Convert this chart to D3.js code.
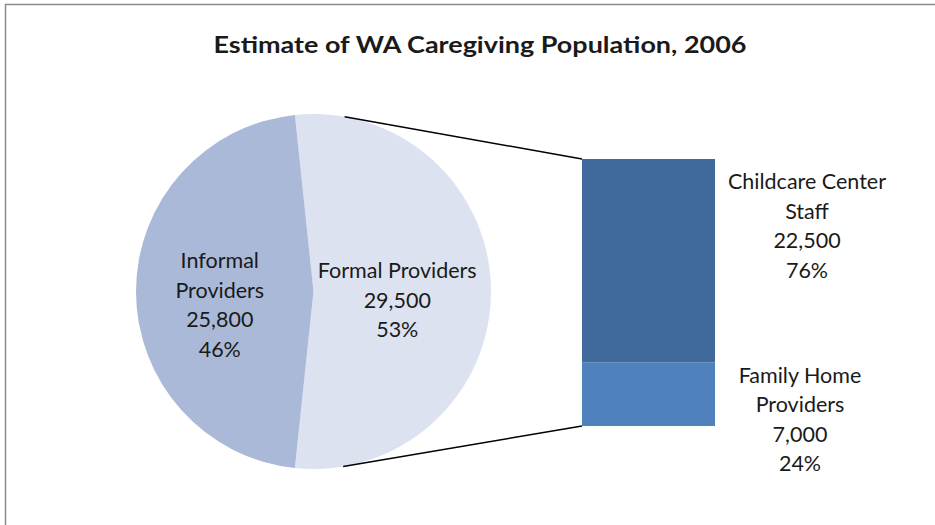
<!DOCTYPE html>
<html>
<head>
<meta charset="utf-8">
<script src="https://cdn.jsdelivr.net/npm/d3@7"></script>
<style>
  body { margin: 0; background: #fff; }
  text { font-family: Lato, "Open Sans", sans-serif; fill: #1a1a1a; }
</style>
</head>
<body>
<svg id="chart" width="935" height="525"></svg>
<script>
// dados
var mainNames = [["Formal Providers"], ["Informal", "Providers"]];
var mainValues = [29500, 25800];
var mainPct = ["53%", "46%"];
var mainColors = ["#dce2ef", "#aab9d7"];

var subNames = [["Childcare Center", "Staff"], ["Family Home", "Providers"]];
var subValues = [22500, 7000];
var subPct = ["76%", "24%"];
var subColors = ["#406a9b", "#4f81bd"];

var title = "Estimate of WA Caregiving Population, 2006";

var svg = d3.select("#chart"),
    width = +svg.attr("width"),
    height = +svg.attr("height");

var fmt = d3.format(",");
var fontSize = 21.5;

// moldura
svg.append("rect")
  .attr("x", 5.5).attr("y", 4.5)
  .attr("width", width + 20).attr("height", height + 20)
  .attr("fill", "none")
  .attr("stroke", "#8c8c8c")
  .attr("stroke-width", 1.5);

svg.append("text")
  .attr("x", 480).attr("y", 53)
  .attr("text-anchor", "middle")
  .attr("font-size", 23)
  .attr("font-weight", "bold")
  .attr("textLength", 533)
  .attr("lengthAdjust", "spacingAndGlyphs")
  .text(title);

// PIZZA
var cx = 313.5, cy = 291.5, r = 177.5;
var total = d3.sum(mainValues);
var formalAngle = mainValues[0] / total * 2 * Math.PI;
var start = Math.PI / 2 - formalAngle / 2;

var pie = d3.pie().sort(null).startAngle(start).endAngle(start + 2 * Math.PI);
var arc = d3.arc().innerRadius(0).outerRadius(r);
var labelArc = d3.arc().innerRadius(r * 0.5).outerRadius(r * 0.5);

var g = svg.append("g").attr("transform", "translate(" + cx + "," + cy + ")");

var slices = pie(mainValues);

g.selectAll("path")
  .data(slices)
  .enter()
  .append("path")
    .attr("d", arc)
    .attr("fill", (d, i) => mainColors[i]);

var lineH = 29.5;
g.selectAll("text.lbl")
  .data(slices)
  .enter()
  .append("text")
    .attr("class", "lbl")
    .attr("text-anchor", "middle")
    .attr("font-size", fontSize)
    .each(function(d, i) {
      var c = labelArc.centroid(d);
      var lines = mainNames[i].concat([fmt(mainValues[i]), mainPct[i]]);
      var y0 = c[1] + 16 + (i == 1 ? 5 : 0) - (lines.length - 1) / 2 * lineH;
      d3.select(this).selectAll("tspan")
        .data(lines)
        .enter()
        .append("tspan")
          .attr("x", c[0] - 5)
          .attr("y", (t, j) => y0 + j * lineH)
          .text(t => t);
    });

// BARRA
var barX = 582, barW = 133;
var y = d3.scaleLinear()
  .domain([0, d3.sum(subValues)])
  .range([159, 426]);

var stacked = [];
var acc = 0;
subValues.forEach(function(v, i) {
  stacked.push({i: i, y0: acc, y1: acc + v});
  acc += v;
});

svg.append("g")
  .selectAll("rect")
  .data(stacked)
  .enter()
  .append("rect")
    .attr("x", barX)
    .attr("y", d => y(d.y0))
    .attr("width", barW)
    .attr("height", d => y(d.y1) - y(d.y0))
    .attr("fill", d => subColors[d.i]);

var offs = [30, 20];
svg.append("g")
  .selectAll("text")
  .data(stacked)
  .enter()
  .append("text")
    .attr("text-anchor", "middle")
    .attr("font-size", fontSize)
    .each(function(d) {
      var lines = subNames[d.i].concat([fmt(subValues[d.i]), subPct[d.i]]);
      var x = d.i == 0 ? 807 : 800;
      d3.select(this).selectAll("tspan")
        .data(lines)
        .enter()
        .append("tspan")
          .attr("x", x)
          .attr("y", (t, j) => y(d.y0) + offs[d.i] + j * lineH)
          .text(t => t);
    });

// linhas de ligação: tangentes do canto da barra ao círculo
function tangent(px, py, upper) {
  var dx = px - cx, dy = py - cy;
  var dist = Math.sqrt(dx * dx + dy * dy);
  var base = Math.atan2(dy, dx);
  var a = Math.acos(r / dist);
  var t = upper ? base - a : base + a;
  return [cx + r * Math.cos(t), cy + r * Math.sin(t)];
}

[[y.range()[0], true], [y.range()[1], false]].forEach(function(p) {
  var tp = tangent(barX, p[0], p[1]);
  svg.append("line")
    .attr("x1", tp[0]).attr("y1", tp[1])
    .attr("x2", barX).attr("y2", p[0])
    .attr("stroke", "#000")
    .attr("stroke-width", 1.5);
});
</script>
</body>
</html>
